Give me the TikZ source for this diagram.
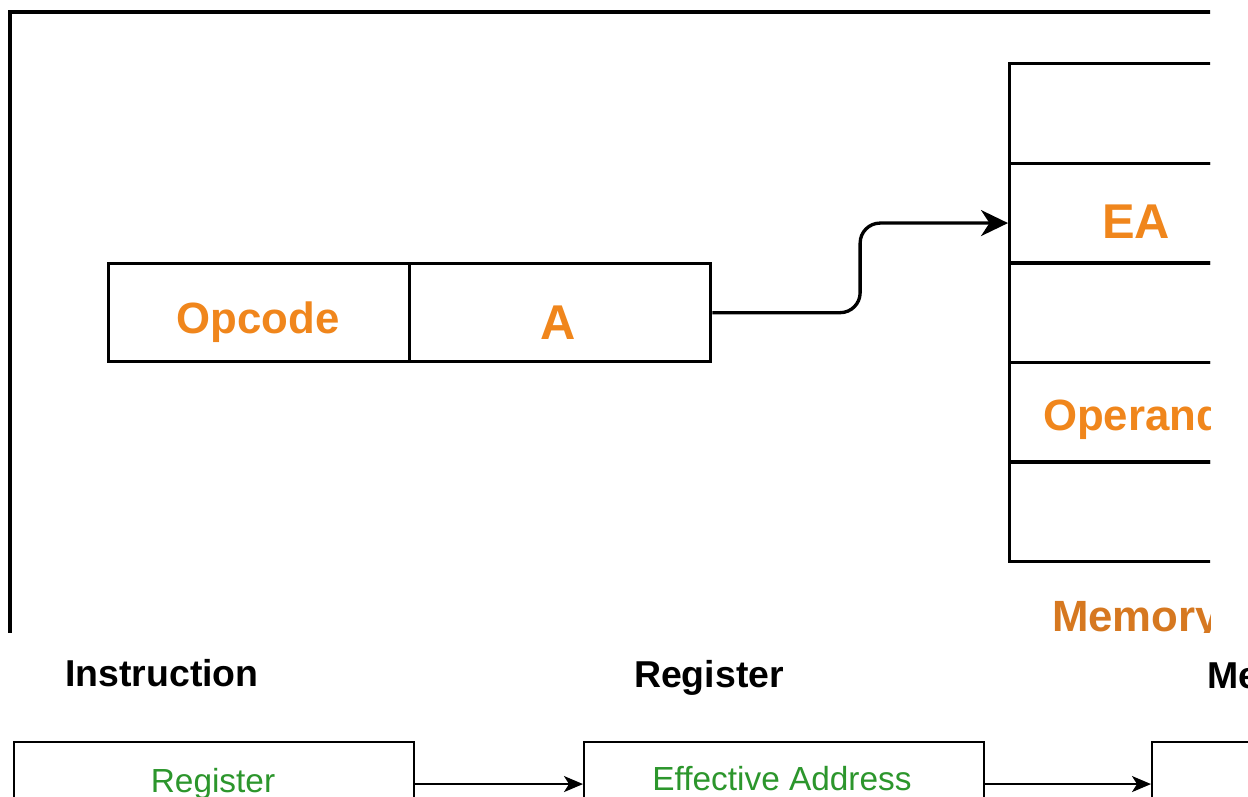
\documentclass[tikz,border=0pt]{standalone}
\usepackage{fontspec}
\setmainfont{Liberation Sans}
\usetikzlibrary{arrows.meta,calc}
\definecolor{opOrange}{RGB}{240,134,28}
\definecolor{memOrange}{RGB}{214,120,32}
\definecolor{addrGreen}{RGB}{44,150,44}
\begin{document}
\begin{tikzpicture}[x=0.02cm,y=-0.02cm,
  thick frame/.style={line width=1.9pt},
  field/.style={draw, line width=1.9pt, minimum width=6.02cm, minimum height=1.96cm,
    inner sep=0pt, anchor=north west},
  cell/.style={draw, line width=1.9pt, minimum width=5.12cm, minimum height=1.992cm,
    inner sep=0pt, anchor=north west},
  stage/.style={draw, line width=1.2pt, minimum width=8cm, minimum height=1.68cm,
    inner sep=0pt, anchor=north west},
  lbl/.style={inner sep=0pt, text height=17.8pt, text depth=0pt, font=\bfseries\fontsize{24.9}{28}\selectfont},
  big/.style={inner sep=0pt, text height=19.9pt, text depth=0pt, text=opOrange, font=\bfseries\fontsize{27.8}{32}\selectfont},
  head/.style={inner sep=0pt, text height=15.25pt, text depth=0pt, font=\bfseries\fontsize{21.3}{25}\selectfont},
  addr/.style={inner sep=0pt, text height=13.6pt, text depth=0pt, text=addrGreen, font=\fontsize{19}{23}\selectfont},
  flow/.style={line width=1.9pt, rounded corners=0.4cm, -{Stealth[length=0.54cm, width=0.52cm, inset=0.17cm]}},
  step arrow/.style={line width=1.2pt, -{Stealth[length=0.38cm, width=0.32cm, inset=0.1cm]}}]

\clip (0,0) rectangle (1248,796);
\fill[white] (0,0) rectangle (1248,796);

% upper panel: instruction format and memory
\begin{scope}
  \clip (0,0) rectangle (1210,632);
  \draw[thick frame] (1300,12) -| (10,700);

  \node[field] (fOp) at (107,262) {};
  \node[field] (fA) at (408,262) {};
  \node[lbl, text=opOrange] (tOp) at (258,318) {Opcode};
  \node[big] (tA) at (558,322) {A};

  \node[cell] (m1) at (1008,62) {};
  \node[cell] (m2) at (1008,161.6) {};
  \node[cell] (m3) at (1008,261.2) {};
  \node[cell] (m4) at (1008,360.8) {};
  \node[cell] (m5) at (1008,460.4) {};
  \node[big] (tEA) at (1136,221) {EA};
  \node[lbl, text=opOrange] (tOpd) at (1133,415) {Operand};
  \node[lbl, text=memOrange] (tMem) at (1136,616) {Memory};

  \coordinate (tgt) at ([yshift=-0.2cm]m2.west);
  \coordinate (mid) at ($(fA.east)!0.5!(tgt)$);
  \draw[flow] (fA.east) -| (mid |- tgt) -- (tgt);
\end{scope}

% lower panel: stage headers and boxes
\node[head] (hIns) at (162,673) {Instruction};
\node[head] (hReg) at (709,674) {Register};
\node[head, anchor=west] (hMem) at (1207,675) {Memory};

\node[stage] (b1) at (13,741) {};
\node[stage] (b2) at (583,741) {};
\node[stage] (b3) at (1151,741) {};
\node[addr] (tReg) at (213,781) {Register};
\node[addr] (tEff) at (782,779) {Effective Address};

\draw[step arrow] (b1.east) -- (b2.west);
\draw[step arrow] (b2.east) -- (b3.west);
\end{tikzpicture}
\end{document}
